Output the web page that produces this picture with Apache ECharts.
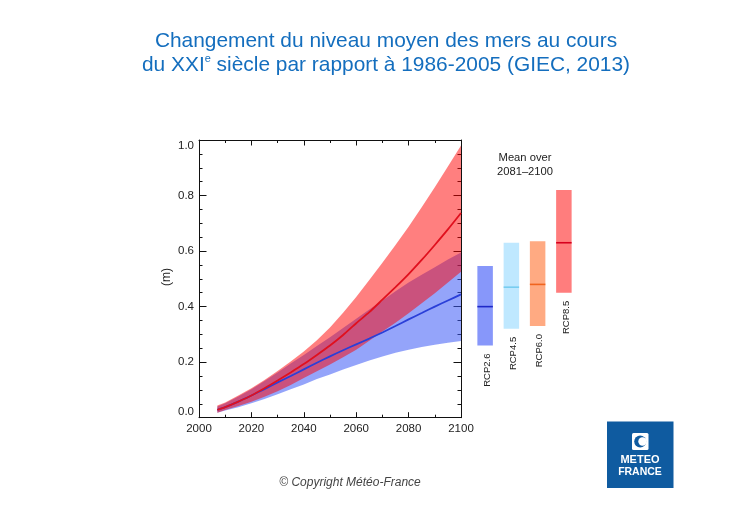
<!DOCTYPE html>
<html>
<head>
<meta charset="utf-8">
<title>Niveau moyen des mers</title>
<style>
html,body{margin:0;padding:0;background:#fff;}
#chart{width:731px;height:517px;}
</style>
<script src="https://cdn.jsdelivr.net/npm/echarts@6/dist/echarts.min.js"></script>
</head>
<body>
<div id="chart"></div>
<script>
var years      = [2007, 2010, 2015, 2020, 2025, 2030, 2035, 2040, 2045, 2050, 2055, 2060, 2065, 2070, 2075, 2080, 2085, 2090, 2095, 2100];
var rcp85Upper = [0.044, 0.055, 0.08, 0.106, 0.136, 0.168, 0.202, 0.238, 0.279, 0.325, 0.378, 0.435, 0.496, 0.558, 0.622, 0.688, 0.758, 0.83, 0.905, 0.98];
var rcp85Lower = [0.018, 0.028, 0.042, 0.057, 0.075, 0.095, 0.118, 0.143, 0.167, 0.192, 0.218, 0.245, 0.277, 0.31, 0.342, 0.376, 0.412, 0.448, 0.487, 0.526];
var rcp85Mean  = [0.028, 0.038, 0.058, 0.08, 0.106, 0.134, 0.163, 0.193, 0.226, 0.26, 0.298, 0.34, 0.38, 0.425, 0.47, 0.517, 0.568, 0.622, 0.678, 0.737];
var rcp26Upper = [0.04, 0.052, 0.076, 0.102, 0.132, 0.163, 0.195, 0.226, 0.258, 0.29, 0.323, 0.356, 0.39, 0.422, 0.455, 0.487, 0.515, 0.542, 0.57, 0.595];
var rcp26Lower = [0.018, 0.026, 0.038, 0.052, 0.067, 0.084, 0.102, 0.12, 0.139, 0.156, 0.174, 0.19, 0.206, 0.22, 0.234, 0.245, 0.255, 0.263, 0.27, 0.276];
var rcp26Mean  = [0.028, 0.038, 0.058, 0.08, 0.103, 0.127, 0.15, 0.174, 0.198, 0.221, 0.243, 0.264, 0.285, 0.307, 0.33, 0.354, 0.377, 0.4, 0.422, 0.444];

var scenarios  = ["RCP2.6", "RCP4.5", "RCP6.0", "RCP8.5"];
var barLow     = [0.26, 0.32, 0.33, 0.45];
var barHigh    = [0.546, 0.63, 0.635, 0.82];
var barMean    = [0.40, 0.47, 0.48, 0.63];
var barColors  = ["#8797fa", "#bfe8ff", "#ffaa82", "#ff7d7d"];
var meanColors = ["#1e28c8", "#78cdf0", "#f0641e", "#d7001e"];

var FONT = '"Liberation Sans", Arial, sans-serif';

function pairs(ys){
    return years.map(function(y, i){ return [y, ys[i]]; });
}
// bande d'incertitude : un seul polygone construit a partir des deux bords
function band(name, low, up, color, opacity, z){
    return {
        type: "custom", name: name, z: z,
        renderItem: function(params, api){
            if (params.dataIndex !== 0) return null;
            var pts = [];
            for (var i = 0; i < years.length; i++) pts.push(api.coord([years[i], up[i]]));
            for (var j = years.length - 1; j >= 0; j--) pts.push(api.coord([years[j], low[j]]));
            return {
                type: "polygon",
                shape: {points: pts},
                style: {fill: color, opacity: opacity}
            };
        },
        data: years.map(function(y, i){ return [y, low[i], up[i]]; }),
        encode: {x: 0, y: [1, 2]}
    };
}
function meanLine(name, ys, color){
    return {
        type: "line", name: name, data: pairs(ys), smooth: 0.2, symbol: "none",
        lineStyle: {color: color, width: 1.8}, z: 5
    };
}
function frameX(pos, showLabel){
    return {
        type: "value", gridIndex: 0, position: pos, min: 2000, max: 2100, interval: 20,
        splitLine: {show: false},
        axisLine: {show: true, onZero: false, lineStyle: {color: "#111", width: 1}},
        axisTick: {inside: true, length: 5.5, lineStyle: {color: "#111"}},
        minorTick: {show: true, splitNumber: 2, length: 3, lineStyle: {color: "#111"}},
        axisLabel: {show: showLabel, color: "#222", fontFamily: FONT, fontSize: 11.5, margin: 5,
                    alignMinLabel: "center", alignMaxLabel: "center",
                    formatter: function(v){ return String(v); }}
    };
}
function frameY(pos, showLabel){
    return {
        type: "value", gridIndex: 0, position: pos, min: 0, max: 1, interval: 0.2,
        splitLine: {show: false},
        axisLine: {show: true, onZero: false, lineStyle: {color: "#111", width: 1}},
        axisTick: {inside: true, length: 7.5, lineStyle: {color: "#111"}},
        minorTick: {show: true, splitNumber: 4, length: 3.5, lineStyle: {color: "#111"}},
        axisLabel: {show: showLabel, color: "#222", fontFamily: FONT, fontSize: 11.5, margin: 5,
                    verticalAlignMinLabel: "bottom", verticalAlignMaxLabel: "top",
                    formatter: function(v){ return v.toFixed(1); }}
    };
}

// colonnes de droite (moyenne 2081-2100)
function renderScenario(params, api){
    var i = api.value(0);
    var low = api.coord([i, api.value(1)]);
    var high = api.coord([i, api.value(2)]);
    var mean = api.coord([i, api.value(3)]);
    var w = 15.5;
    return {
        type: "group",
        children: [{
            type: "rect",
            shape: {x: low[0] - w / 2, y: high[1], width: w, height: low[1] - high[1]},
            style: {fill: barColors[i]}
        }, {
            type: "line",
            shape: {x1: low[0] - w / 2, y1: mean[1], x2: low[0] + w / 2, y2: mean[1]},
            style: {stroke: meanColors[i], lineWidth: 1.6}
        }, {
            type: "text", x: low[0] + 2, y: low[1] + 8, rotation: Math.PI / 2,
            style: {text: scenarios[i], fill: "#222", font: "9.5px " + FONT,
                    align: "right", verticalAlign: "middle"}
        }]
    };
}

var chart = echarts.init(document.getElementById("chart"), null, {renderer: "canvas"});
chart.setOption({
    animation: false,
    backgroundColor: "#fff",
    title: {
        left: 381, top: 24, textAlign: "center",
        text: "Changement du niveau moyen des mers au cours\ndu XXI{sup|e} siècle par rapport à 1986-2005 (GIEC, 2013)",
        textStyle: {
            color: "#146ebe", fontFamily: FONT, fontWeight: "normal", fontSize: 20.9, lineHeight: 24,
            rich: {
                sup: {fontSize: 11, fontFamily: FONT, color: "#146ebe", verticalAlign: "top", lineHeight: 20}
            }
        }
    },
    grid: [
        {left: 199, top: 140, width: 262, height: 277.7},
        {left: 472, top: 140, width: 105, height: 277.7}
    ],
    xAxis: [
        frameX("bottom", true),
        frameX("top", false),
        {type: "category", gridIndex: 1, data: scenarios, show: false}
    ],
    yAxis: [
        frameY("left", true),
        frameY("right", false),
        {type: "value", gridIndex: 1, min: 0, max: 1, show: false}
    ],
    series: [
        band("rcp26-band", rcp26Lower, rcp26Upper, "#3c5af5", 0.55, 2),
        band("rcp85-band", rcp85Lower, rcp85Upper, "#ff0000", 0.5, 3),
        meanLine("rcp26-mean", rcp26Mean, "#2a3fd8"),
        meanLine("rcp85-mean", rcp85Mean, "#e0101e"),
        {
            type: "custom", xAxisIndex: 2, yAxisIndex: 2,
            renderItem: renderScenario,
            data: scenarios.map(function(s, i){ return [i, barLow[i], barHigh[i], barMean[i]]; })
        }
    ],
    graphic: [
        {type: "text", x: 167, y: 277, rotation: Math.PI / 2,
         style: {text: "(m)", fill: "#222", font: "12px " + FONT, align: "center", verticalAlign: "middle"}},
        {type: "text", x: 525, y: 158,
         style: {text: "Mean over", fill: "#222", font: "11.2px " + FONT, align: "center", verticalAlign: "middle"}},
        {type: "text", x: 525, y: 172,
         style: {text: "2081–2100", fill: "#222", font: "11.2px " + FONT, align: "center", verticalAlign: "middle"}},
        {type: "text", x: 350, y: 483,
         style: {text: "© Copyright Météo-France", fill: "#444", font: "italic 12px " + FONT, align: "center", verticalAlign: "middle"}},
        // logo
        {type: "rect", shape: {x: 607, y: 421.5, width: 66.5, height: 66.5}, style: {fill: "#0f5ba0"}},
        {type: "rect", shape: {x: 632, y: 433, width: 16.5, height: 17, r: 1.5}, style: {fill: "#fff"}},
        {type: "circle", shape: {cx: 640.2, cy: 441.5, r: 6}, style: {fill: "#0f5ba0"}},
        {type: "circle", shape: {cx: 642.5, cy: 441.5, r: 4.2}, style: {fill: "#fff"}},
        {type: "text", x: 640, y: 460,
         style: {text: "METEO", fill: "#fff", font: "bold 11px " + FONT, align: "center", verticalAlign: "middle"}},
        {type: "text", x: 640, y: 472,
         style: {text: "FRANCE", fill: "#fff", font: "bold 10.5px " + FONT, align: "center", verticalAlign: "middle"}}
    ]
});
</script>
</body>
</html>
